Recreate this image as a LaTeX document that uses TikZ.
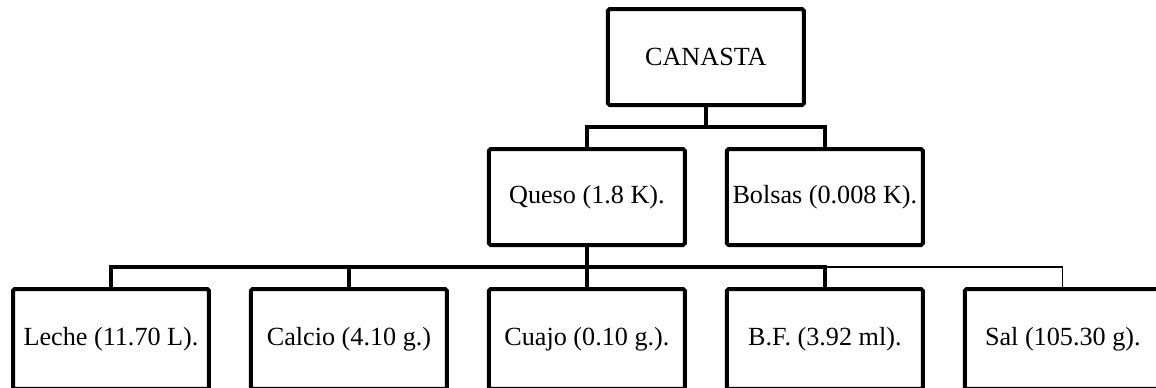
\documentclass[tikz,border=0pt]{standalone}
\usepackage{fontspec}
\setmainfont{Liberation Serif}
\usetikzlibrary{positioning,calc}

\begin{document}
\begin{tikzpicture}[
    x=0.02cm,y=0.02cm,
    node distance=0.8cm and 0.76cm,
    box/.style={rectangle,draw,line width=0.08cm,rounded corners=1pt,
                minimum width=3.92cm,minimum height=1.92cm,inner sep=2pt,
                font=\fontsize{14.9pt}{17pt}\selectfont},
    leaf/.style={box,minimum height=2.0cm},
    link/.style={line width=0.08cm},
    thinlink/.style={line width=0.6pt}
  ]
    \useasboundingbox (0,0) rectangle (1156,-387);
    % bottom row
    \node[leaf,anchor=north] (lec) at (111,-287) {Leche (11.70 L).};
    \node[leaf,right=of lec] (cal) {Calcio (4.10 g.)};
    \node[leaf,right=of cal] (cua) {Cuajo (0.10 g.).};
    \node[leaf,right=of cua] (bf) {B.F. (3.92 ml).};
    \node[leaf,right=of bf] (sal) {Sal (105.30 g).};
    % middle row and top
    \node[box,above=of cua] (que) {Queso (1.8 K).};
    \node[box,above=of bf] (bol) {Bolsas (0.008 K).};
    \coordinate (m) at ($(que.north)!0.5!(bol.north)$);
    \node[box,above=of m] (can) {CANASTA};
    % connectors
    \coordinate (t) at ($(can.south)!0.5!(que.north)$);
    \coordinate (u) at ($(que.south)!0.5!(cua.north)$);
    \draw[link] (can.south) -- (can.south |- t);
    \draw[link] (que.north) |- (t) -| (bol.north);
    \draw[link] (que.south) -- (cua.north);
    \draw[link] (lec.north) |- (u) -| (bf.north);
    \draw[link] (cal.north) -- (cal.north |- u);
    \draw[thinlink] (bf.north |- u) -| (sal.north);
  \end{tikzpicture}
\end{document}
